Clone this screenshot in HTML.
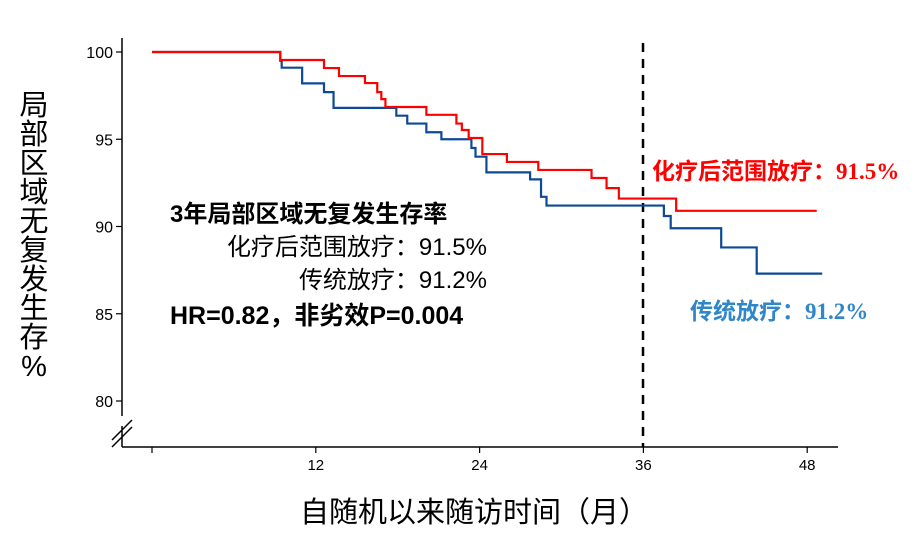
<!DOCTYPE html>
<html><head><meta charset="utf-8"><style>
body{margin:0;background:#fff;}
svg{display:block;font-family:"Liberation Sans","Noto Sans CJK SC",sans-serif;}
</style></head><body>
<svg width="916" height="548" id="chart">
</svg>
<script>
const xTicks=[12,24,36,48];
const yTicks=[80,85,90,95,100];
const redT=[0,9.4,12.6,13.7,15.6,16.5,16.8,17.1,20.1,22.3,22.7,23.2,24.2,26.0,28.3,32.2,33.3,34.2,38.4,48.7];
const redS=[100,99.54,99.08,98.62,98.22,97.7,97.3,96.85,96.4,95.9,95.53,95.07,94.15,93.7,93.24,92.78,92.2,91.6,90.9,90.9];
const blueT=[0,9.4,9.5,11.0,12.6,13.3,17.9,18.7,20.1,21.2,23.4,23.7,24.5,27.7,28.5,28.9,37.5,38.0,41.7,44.3,49.1];
const blueS=[100,99.5,99.1,98.2,97.7,96.8,96.35,95.9,95.4,95.0,94.5,94.0,93.1,92.7,91.7,91.2,90.6,89.9,88.8,87.3,87.3];
const X=m=>152+m*13.65;
const Y=v=>52+(100-v)*17.45;
const svg=document.getElementById('chart');
const NS='http://www.w3.org/2000/svg';
function mk(tag,attrs,parent){const e=document.createElementNS(NS,tag);for(const k in attrs)e.setAttribute(k,attrs[k]);(parent||svg).appendChild(e);return e;}
let e;
e=mk('line',{x1:122,y1:447,x2:838,y2:447,stroke:'#000','stroke-width':1.5});


e=mk('polyline',{points:'122,38 122,416',fill:'none',stroke:'#000','stroke-width':1.5});


e=mk('path',{d:'M122,426 L122,447 M112,440 L132,420 M112,447 L132,427',fill:'none',stroke:'#000','stroke-width':1.5});


e=mk('line',{x1:X(0),y1:447,x2:X(0),y2:453,stroke:'#000','stroke-width':1.2});


xTicks.forEach(t=>{
 e=mk('line',{x1:X(t),y1:447,x2:X(t),y2:453,stroke:'#000','stroke-width':1.2});
 
 
 e=mk('text',{x:X(t),y:470,'text-anchor':'middle','font-size':15,fill:'#000'});e.textContent=t;
 
 
});
yTicks.forEach(t=>{
 e=mk('line',{x1:116,y1:Y(t),x2:122,y2:Y(t),stroke:'#000','stroke-width':1.2});
 
 
 e=mk('text',{x:113,y:Y(t)+6,'text-anchor':'end','font-size':16,fill:'#000'});e.textContent=t;
 
 
});
e=mk('line',{x1:643,y1:43,x2:643,y2:447,stroke:'#000','stroke-width':2.5,'stroke-dasharray':'9,7'});


function stepPath(T,S){let d='M'+X(T[0])+','+Y(S[0]);for(let i=1;i<T.length;i++){d+=' H'+X(T[i])+' V'+Y(S[i]);}return d;}
e=mk('path',{d:stepPath(blueT,blueS),fill:'none',stroke:'#0d4a96','stroke-width':2.2});


e=mk('path',{d:stepPath(redT,redS),fill:'none',stroke:'#f00','stroke-width':2.2});


</script>
<div style="position:absolute;left:0;top:0;width:916px;height:548px;font-family:'Liberation Sans','Noto Sans CJK SC',sans-serif;pointer-events:none">
<div style="position:absolute;left:16px;top:92px;width:36px;font-size:29px;line-height:29px;text-align:center">局<br>部<br>区<br>域<br>无<br>复<br>发<br>生<br>存<br>%</div>
<div style="position:absolute;left:300px;top:496px;font-size:29px;line-height:34px;white-space:nowrap">自随机以来随访时间（月）</div>
<div style="position:absolute;left:170px;top:200px;font-size:24px;line-height:30px;font-weight:bold;white-space:nowrap">3年局部区域无复发生存率</div>
<div style="position:absolute;right:429px;top:233px;font-size:24px;line-height:30px;white-space:nowrap">化疗后范围放疗：91.5%</div>
<div style="position:absolute;right:429px;top:266px;font-size:24px;line-height:30px;white-space:nowrap">传统放疗：91.2%</div>
<div style="position:absolute;left:170px;top:301px;font-size:25px;line-height:30px;font-weight:bold;white-space:nowrap">HR=0.82，非劣效P=0.004</div>
<div style="position:absolute;left:652px;top:157px;font-size:23px;line-height:28px;font-weight:bold;color:#f00;white-space:nowrap">化疗后范围放疗：<span style="font-family:'Liberation Serif',serif">91.5%</span></div>
<div style="position:absolute;left:690px;top:297px;font-size:23px;line-height:28px;font-weight:bold;color:#2f86c8;white-space:nowrap">传统放疗：<span style="font-family:'Liberation Serif',serif">91.2%</span></div>
</div>
</body></html>
